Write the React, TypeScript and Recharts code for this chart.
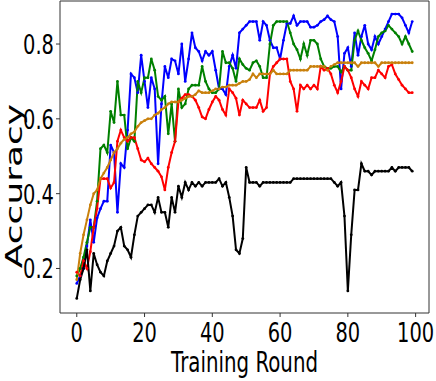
import { LineChart, Line, XAxis, YAxis, ReferenceArea, Label } from 'recharts'

// per-round accuracy for each run
const blueAcc = [
  0.16, 0.18, 0.2, 0.26, 0.33, 0.27, 0.335, 0.36, 0.38, 0.38,
  0.53, 0.51, 0.35, 0.48, 0.47, 0.57, 0.72, 0.71, 0.67, 0.77,
  0.7, 0.63, 0.71, 0.68, 0.48, 0.64, 0.74, 0.71, 0.76, 0.755,
  0.72, 0.8, 0.7, 0.76, 0.83, 0.79, 0.78, 0.755, 0.78, 0.77,
  0.78, 0.73, 0.68, 0.68, 0.665, 0.74, 0.77, 0.735, 0.83, 0.84,
  0.85, 0.86, 0.86, 0.86, 0.81, 0.86, 0.85, 0.81, 0.79, 0.79,
  0.76, 0.81, 0.855, 0.855, 0.875, 0.85, 0.86, 0.86, 0.86, 0.845,
  0.845, 0.85, 0.86, 0.865, 0.875, 0.865, 0.86, 0.82, 0.68, 0.775,
  0.79, 0.74, 0.83, 0.77, 0.82, 0.85, 0.8, 0.785, 0.82, 0.8,
  0.82, 0.84, 0.86, 0.88, 0.88, 0.88, 0.87, 0.85, 0.83, 0.86,
]

const greenAcc = [
  0.18, 0.2, 0.23, 0.27, 0.31, 0.31, 0.38, 0.52, 0.53, 0.51,
  0.62, 0.59, 0.7, 0.61, 0.61, 0.52, 0.55, 0.54, 0.7, 0.67,
  0.71, 0.71, 0.76, 0.73, 0.66, 0.65, 0.66, 0.56, 0.64, 0.54,
  0.68, 0.63, 0.64, 0.68, 0.69, 0.69, 0.69, 0.74, 0.7, 0.68,
  0.67, 0.67, 0.68, 0.78, 0.75, 0.75, 0.735, 0.7, 0.76, 0.745,
  0.735, 0.73, 0.75, 0.755, 0.74, 0.71, 0.71, 0.8, 0.85, 0.86,
  0.86, 0.86, 0.86, 0.83, 0.8, 0.785, 0.76, 0.8, 0.77, 0.81,
  0.81, 0.8, 0.76, 0.74, 0.735, 0.735, 0.74, 0.74, 0.725, 0.74,
  0.73, 0.73, 0.81, 0.835, 0.81, 0.79, 0.775, 0.755, 0.785, 0.82,
  0.83, 0.835, 0.85, 0.84, 0.83, 0.82, 0.8, 0.82, 0.8, 0.78,
]

const redAcc = [
  0.19, 0.18, 0.22, 0.2, 0.245, 0.31, 0.36, 0.44, 0.44, 0.44,
  0.415, 0.43, 0.54, 0.57, 0.55, 0.54, 0.55, 0.55, 0.52, 0.49,
  0.485, 0.495, 0.48, 0.47, 0.46, 0.445, 0.41, 0.47, 0.51, 0.54,
  0.645, 0.655, 0.665, 0.665, 0.66, 0.65, 0.63, 0.605, 0.6, 0.625,
  0.645, 0.66, 0.65, 0.625, 0.61, 0.68, 0.67, 0.655, 0.61, 0.65,
  0.64, 0.63, 0.63, 0.63, 0.65, 0.62, 0.63, 0.72, 0.74, 0.75,
  0.76, 0.76, 0.76, 0.7, 0.68, 0.62, 0.69, 0.68, 0.69, 0.68,
  0.69, 0.68, 0.74, 0.73, 0.735, 0.72, 0.69, 0.67, 0.7, 0.74,
  0.73, 0.71, 0.68, 0.66, 0.7, 0.69, 0.68, 0.71, 0.71, 0.73,
  0.72, 0.71, 0.74, 0.745, 0.72, 0.705, 0.69, 0.68, 0.67, 0.67,
]

const orangeAcc = [
  0.17, 0.24, 0.29, 0.33, 0.37, 0.4, 0.41, 0.44, 0.455, 0.47,
  0.49, 0.51, 0.52, 0.535, 0.545, 0.55, 0.56, 0.565, 0.58, 0.59,
  0.595, 0.6, 0.6, 0.61, 0.615, 0.625, 0.63, 0.64, 0.645, 0.645,
  0.645, 0.65, 0.655, 0.66, 0.66, 0.665, 0.675, 0.67, 0.67, 0.67,
  0.675, 0.68, 0.68, 0.685, 0.685, 0.69, 0.69, 0.69, 0.695, 0.7,
  0.7, 0.705, 0.72, 0.71, 0.72, 0.72, 0.72, 0.72, 0.73, 0.72,
  0.72, 0.72, 0.72, 0.73, 0.73, 0.73, 0.73, 0.73, 0.73, 0.74,
  0.74, 0.74, 0.74, 0.74, 0.73, 0.74, 0.745, 0.75, 0.75, 0.75,
  0.75, 0.75, 0.75, 0.74, 0.75, 0.75, 0.75, 0.75, 0.75, 0.74,
  0.75, 0.75, 0.75, 0.75, 0.75, 0.75, 0.75, 0.75, 0.75, 0.75,
]

const blackAcc = [
  0.12, 0.17, 0.2, 0.25, 0.14, 0.24, 0.21, 0.19, 0.18, 0.22,
  0.24, 0.26, 0.3, 0.31, 0.26, 0.25, 0.23, 0.29, 0.34, 0.35,
  0.36, 0.37, 0.37, 0.35, 0.39, 0.35, 0.35, 0.31, 0.39, 0.35,
  0.42, 0.39, 0.43, 0.41, 0.43, 0.42, 0.43, 0.42, 0.43, 0.43,
  0.43, 0.43, 0.44, 0.42, 0.43, 0.39, 0.34, 0.25, 0.24, 0.28,
  0.47, 0.43, 0.43, 0.43, 0.42, 0.43, 0.43, 0.43, 0.43, 0.43,
  0.43, 0.43, 0.43, 0.43, 0.44, 0.44, 0.44, 0.44, 0.44, 0.44,
  0.44, 0.44, 0.44, 0.44, 0.44, 0.44, 0.43, 0.42, 0.43, 0.34,
  0.14, 0.29, 0.41, 0.41, 0.48, 0.46, 0.46, 0.45, 0.46, 0.46,
  0.46, 0.46, 0.46, 0.47, 0.46, 0.47, 0.47, 0.47, 0.47, 0.46,
]

const xTicks = [0, 20, 40, 60, 80, 100]
const yTicks = [0.2, 0.4, 0.6, 0.8]

const X_DOMAIN: [number, number] = [-4.95, 103.95]
const Y_DOMAIN: [number, number] = [0.081, 0.915]

const FONT = 'DejaVu Sans'
const SQUEEZE = 0.71

const data = blueAcc.map((_, i) => ({
  round: i,
  blue: blueAcc[i],
  green: greenAcc[i],
  red: redAcc[i],
  orange: orangeAcc[i],
  black: blackAcc[i],
}))

const SERIES = [
  { key: 'blue', color: '#0000ff' },
  { key: 'green', color: '#008000' },
  { key: 'red', color: '#ff0000' },
  { key: 'orange', color: '#c9800c' },
  { key: 'black', color: '#000000' },
]

const XTick = ({ x, y, payload }: any) => (
  <text
    transform={`translate(${x},${y + 23}) scale(${SQUEEZE},1)`}
    textAnchor="middle"
    fontFamily={FONT}
    fontSize={27.4}
    fill="#000"
  >
    {payload.value}
  </text>
)

const YTick = ({ x, y, payload }: any) => (
  <text
    transform={`translate(${x},${y + 10}) scale(${SQUEEZE},1)`}
    textAnchor="end"
    fontFamily={FONT}
    fontSize={27.4}
    fill="#000"
  >
    {payload.value.toFixed(1)}
  </text>
)

export default function App() {
  return (
    <div style={{ position: 'absolute', left: 0, top: 0, background: '#fff' }}>
      <LineChart
        width={436}
        height={381}
        data={data}
        margin={{ top: 1, right: 7, left: 0, bottom: 0 }}
      >
        <XAxis
          dataKey="round"
          type="number"
          domain={X_DOMAIN}
          ticks={xTicks}
          allowDataOverflow
          height={68}
          axisLine={false}
          tickSize={4}
          tickLine={{ stroke: '#333' }}
          tick={<XTick />}
        >
          <Label
            content={({ viewBox }: any) => (
              <text
                transform={`translate(${viewBox.x + viewBox.width / 2},${viewBox.y + 59}) scale(${SQUEEZE},1)`}
                textAnchor="middle"
                fontFamily={FONT}
                fontSize={27.9}
                fill="#000"
              >
                Training Round
              </text>
            )}
          />
        </XAxis>
        <YAxis
          type="number"
          domain={Y_DOMAIN}
          ticks={yTicks}
          allowDataOverflow
          width={60}
          axisLine={false}
          tickSize={4}
          tickLine={{ stroke: '#333' }}
          tick={<YTick />}
        >
          <Label
            content={() => (
              <text
                transform="translate(22,186) rotate(-90) scale(1,0.63)"
                textAnchor="middle"
                fontFamily={FONT}
                fontSize={36}
                fill="#000"
              >
                Accuracy
              </text>
            )}
          />
        </YAxis>
        <ReferenceArea
          x1={X_DOMAIN[0]}
          x2={X_DOMAIN[1]}
          y1={Y_DOMAIN[0]}
          y2={Y_DOMAIN[1]}
          fill="none"
          stroke="#333"
          strokeWidth={1}
          ifOverflow="visible"
        />
        {SERIES.map(s => (
          <Line
            key={s.key}
            dataKey={s.key}
            type="linear"
            stroke={s.color}
            strokeWidth={2}
            dot={{ r: 1.4, fill: s.color, stroke: s.color, strokeWidth: 0 }}
            activeDot={false}
            isAnimationActive={false}
          />
        ))}
      </LineChart>
    </div>
  )
}
